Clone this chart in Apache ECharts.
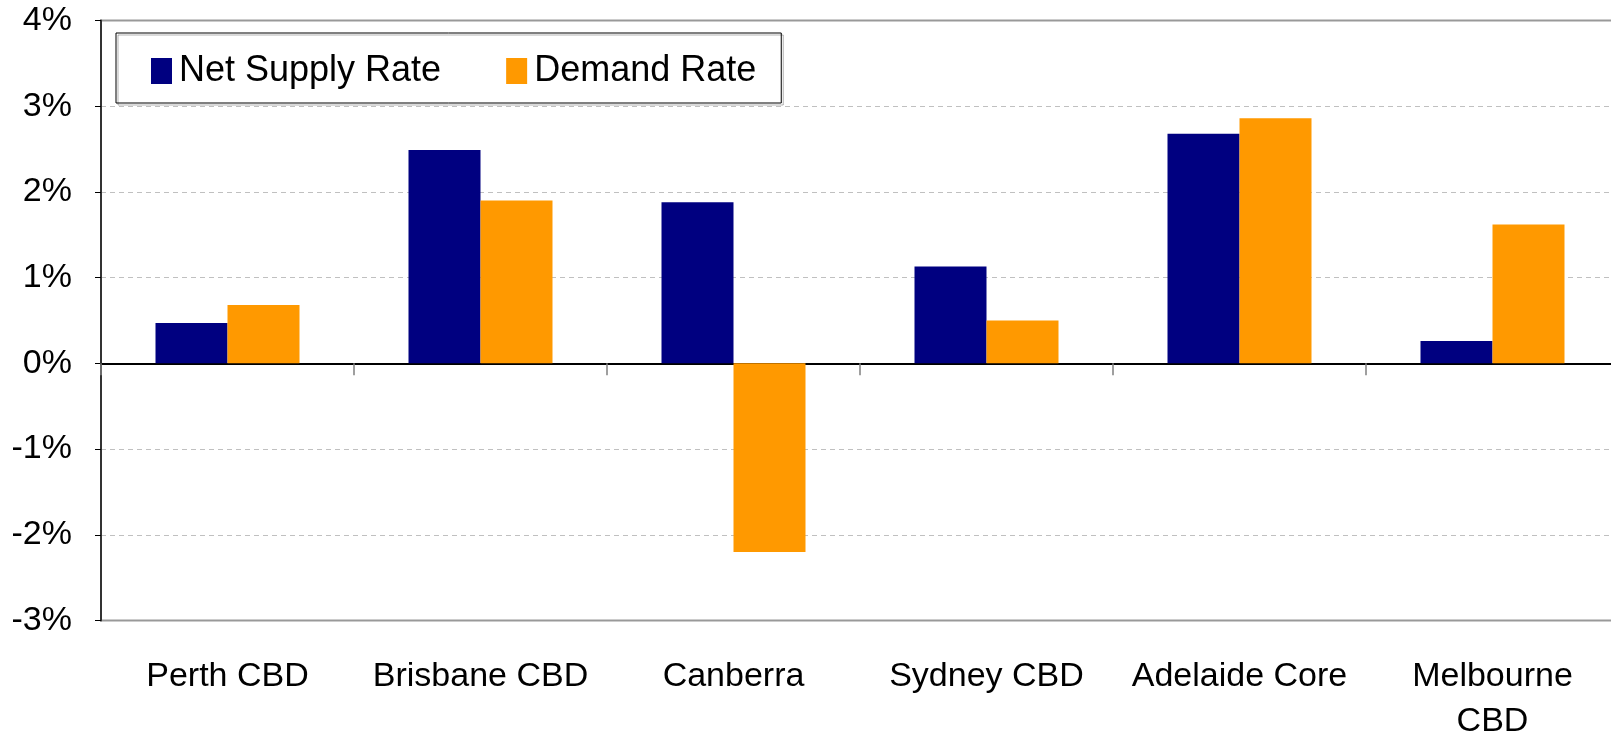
<!DOCTYPE html>
<html>
<head>
<meta charset="utf-8">
<script src="https://cdn.jsdelivr.net/npm/echarts@6/dist/echarts.min.js"></script>
<style>
  body { margin:0; background:#fff; }
  #chart { width:1611px; height:737px; }
</style>
</head>
<body>
<div id="chart"></div>
<script>
var categories = ['Perth CBD', 'Brisbane CBD', 'Canberra', 'Sydney CBD', 'Adelaide Core', 'Melbourne\nCBD'];
var netSupply = [0.47, 2.49, 1.88, 1.13, 2.68, 0.26];
var demand = [0.68, 1.90, -2.20, 0.50, 2.86, 1.62];
var yTicks = { min: -3, max: 4, step: 1 };

var myChart = echarts.init(document.getElementById('chart'));
var fontName = '"Liberation Sans", Arial, sans-serif';

option = {
    animation: false,
    backgroundColor: '#fff',
    legend: {
        left: 116,
        top: 33,
        orient: 'horizontal',
        padding: [20, 25, 14, 35],
        itemWidth: 21,
        itemHeight: 26,
        itemGap: 65,
        borderColor: '#000',
        borderWidth: 1,
        shadowColor: 'rgba(0,0,0,0.3)',
        shadowOffsetX: 2,
        shadowOffsetY: 2,
        icon: 'rect',
        textStyle: { fontFamily: fontName, fontSize: 36, color: '#000', padding: [0, 0, 0, 2] },
        data: ['Net Supply Rate', 'Demand Rate']
    },
    grid: {
        left: 101,
        top: 20.5,
        right: -8,
        height: 600,
        outerBoundsMode: 'none',
        show: true,
        borderColor: '#999',
        borderWidth: 2,
        containLabel: false
    },
    xAxis: [
        {
            type: 'category',
            data: categories,
            axisLine: { onZero: true, lineStyle: { color: '#000', width: 2 } },
            axisTick: { show: true, length: 12, lineStyle: { color: '#808080', width: 1.5 } },
            axisLabel: { show: false },
            splitLine: { show: false }
        },
        {
            type: 'category',
            data: categories,
            position: 'bottom',
            axisLine: { show: false, onZero: false },
            axisTick: { show: false },
            axisLabel: {
                interval: 0,
                margin: 34,
                fontFamily: fontName,
                fontSize: 34,
                lineHeight: 45,
                color: '#000'
            }
        }
    ],
    yAxis: {
        type: 'value',
        min: yTicks.min,
        max: yTicks.max,
        interval: yTicks.step,
        axisLine: { show: true, lineStyle: { color: '#333', width: 2 } },
        axisTick: { show: true, length: 6, lineStyle: { color: '#000' } },
        axisLabel: {
            margin: 29,
            fontFamily: fontName,
            fontSize: 34,
            color: '#000',
            formatter: '{value}%'
        },
        splitLine: {
            show: true,
            showMinLine: false,
            showMaxLine: false,
            lineStyle: { color: '#c0c0c0', type: [5, 4], width: 1 }
        }
    },
    series: [
        {
            name: 'Net Supply Rate',
            type: 'bar',
            xAxisIndex: 0,
            barWidth: 72,
            barGap: '0%',
            itemStyle: { color: '#000080' },
            data: netSupply
        },
        {
            name: 'Demand Rate',
            type: 'bar',
            xAxisIndex: 0,
            barWidth: 72,
            barGap: '0%',
            itemStyle: { color: '#FF9900' },
            data: demand
        }
    ]
};
myChart.setOption(option);
</script>
</body>
</html>
